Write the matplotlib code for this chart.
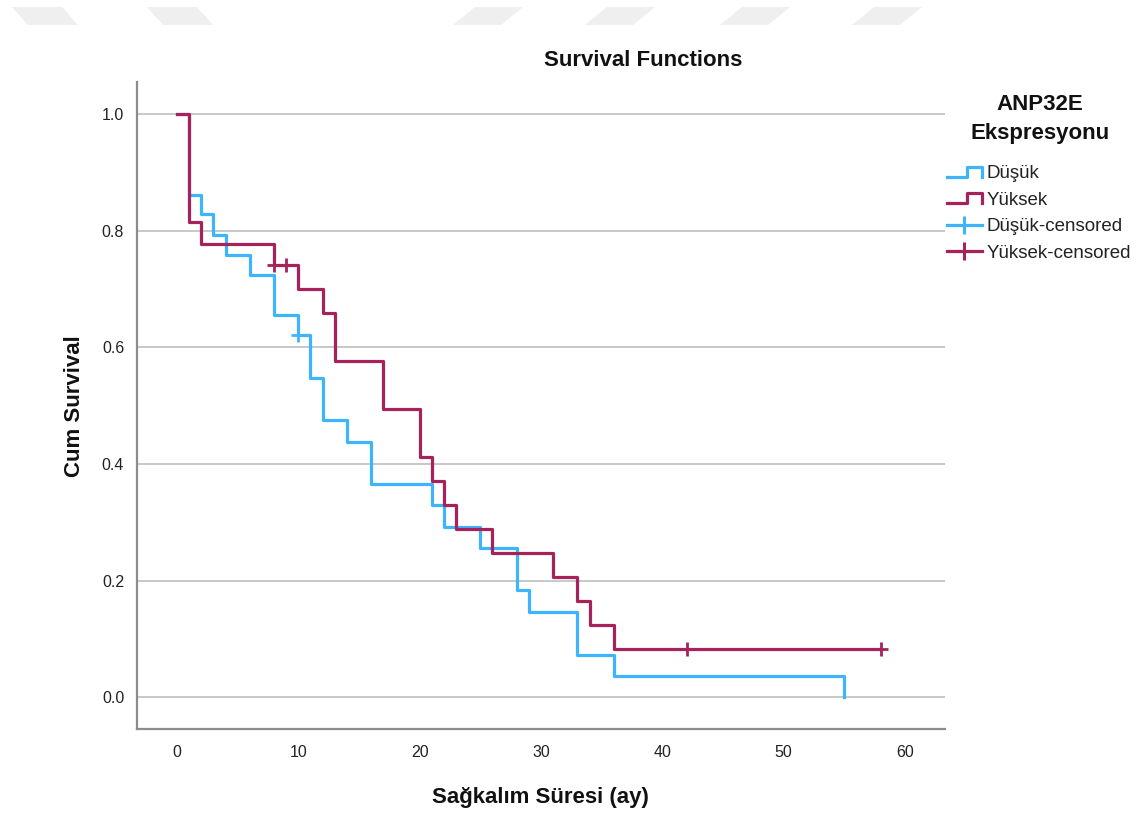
import numpy as np
import matplotlib
matplotlib.use('Agg')
import matplotlib.pyplot as plt
from matplotlib.lines import Line2D
from matplotlib.patches import Polygon
from matplotlib.legend_handler import HandlerBase

plt.rcParams['font.family'] = ['Liberation Sans', 'DejaVu Sans']

# Kaplan-Meier adimlari
dusuk_t = [0, 1, 2, 3, 4, 6, 8, 10, 11, 12, 14, 16, 21, 22, 25, 28, 29, 33, 36, 55]
dusuk_s = [1.0, 0.862, 0.828, 0.793, 0.759, 0.724, 0.655, 0.621, 0.548, 0.475,
           0.438, 0.365, 0.329, 0.292, 0.256, 0.183, 0.146, 0.073, 0.037, 0.0]
dusuk_cens_t = [10]
dusuk_cens_s = [0.621]

yuksek_t = [0, 1, 2, 8, 10, 12, 13, 17, 20, 21, 22, 23, 26, 31, 33, 34, 36, 58]
yuksek_s = [1.0, 0.815, 0.778, 0.741, 0.700, 0.659, 0.576, 0.494, 0.412, 0.370,
            0.329, 0.288, 0.247, 0.206, 0.165, 0.123, 0.082, 0.082]
yuksek_cens_t = [8, 9, 42, 58]
yuksek_cens_s = [0.741, 0.741, 0.082, 0.082]

x_ticks = [0, 10, 20, 30, 40, 50, 60]
y_ticks = [0.0, 0.2, 0.4, 0.6, 0.8, 1.0]
labels = ['Düşük', 'Yüksek', 'Düşük-censored', 'Yüksek-censored']
legend_title = ['ANP32E', 'Ekspresyonu']

BLUE = '#3db4fb'
RED = '#a5235a'


class StepHandler(HandlerBase):
    # legend icin basamak seklinde cizgi
    def create_artists(self, legend, orig_handle, xdescent, ydescent,
                       width, height, fontsize, trans):
        x0 = -xdescent
        y0 = -ydescent
        xs = [x0, x0 + width * 0.58, x0 + width * 0.58, x0 + width, x0 + width]
        ys = [y0 + height * 0.1, y0 + height * 0.1, y0 + height * 0.85,
              y0 + height * 0.85, y0 + height * 0.1]
        ln = Line2D(xs, ys, color=orig_handle.get_color(),
                    lw=orig_handle.get_linewidth(), transform=trans)
        return [ln]


class CensHandler(HandlerBase):
    def create_artists(self, legend, orig_handle, xdescent, ydescent,
                       width, height, fontsize, trans):
        x0 = -xdescent
        yc = -ydescent + height / 2
        ln = Line2D([x0, x0 + width], [yc, yc], color=orig_handle.get_color(),
                    lw=orig_handle.get_linewidth(), transform=trans)
        mk = Line2D([x0 + width / 2], [yc], marker='+', markersize=12.5,
                    mew=2.2, color=orig_handle.get_color(), ls='none',
                    transform=trans)
        return [ln, mk]


fig = plt.figure(figsize=(11.46, 8.16), dpi=100)
ax = fig.add_axes([0.1193, 0.1063, 0.8246 - 0.1193, 0.8995 - 0.1063])

# watermark parcalari (ust kenar)
wm_left = [12, 147]
wm_right = [453, 585, 720, 852]
for xl in wm_left:
    pts = [(xl, 7), (xl + 50, 7), (xl + 66, 25), (xl + 16, 25)]
    fig.add_artist(Polygon([(px / 1146, 1 - py / 816) for px, py in pts],
                           closed=True, transform=fig.transFigure,
                           facecolor='#efefef', edgecolor='none', zorder=0))
for xl in wm_right:
    pts = [(xl + 22, 7), (xl + 70, 7), (xl + 48, 25), (xl, 25)]
    fig.add_artist(Polygon([(px / 1146, 1 - py / 816) for px, py in pts],
                           closed=True, transform=fig.transFigure,
                           facecolor='#efefef', edgecolor='none', zorder=0))

ax.set_axisbelow(True)
ax.grid(axis='y', color='#c8c8c8', lw=1.4)

l1, = ax.step(dusuk_t, dusuk_s, where='post', color=BLUE, lw=2.3)
l2, = ax.step(yuksek_t, yuksek_s, where='post', color=RED, lw=2.3)
c1, = ax.plot(dusuk_cens_t, dusuk_cens_s, ls='none', marker='+',
              markersize=10, mew=2.0, color=BLUE)
c2, = ax.plot(yuksek_cens_t, yuksek_cens_s, ls='none', marker='+',
              markersize=10, mew=2.0, color=RED)

ax.set_xlim(-3.32, 63.3)
ax.set_ylim(-0.055, 1.055)
ax.set_xticks(x_ticks)
ax.set_yticks(y_ticks)
ax.set_yticklabels(['{:.1f}'.format(v) for v in y_ticks])
ax.tick_params(axis='both', length=0, labelsize=11.5, colors='#222222')
ax.tick_params(axis='x', pad=11)
ax.tick_params(axis='y', pad=9)

for s in ['top', 'right']:
    ax.spines[s].set_visible(False)
for s in ['left', 'bottom']:
    ax.spines[s].set_color('#8c8c8c')
    ax.spines[s].set_linewidth(1.6)

fig.text(643 / 1146, 1 - 61 / 816, 'Survival Functions', ha='center',
         va='center', fontsize=16, fontweight='bold', color='#111111')
ax.set_xlabel('Sağkalım Süresi (ay)', fontsize=16, fontweight='bold',
              labelpad=20, color='#111111')
ax.set_ylabel('Cum Survival', fontsize=16, fontweight='bold', labelpad=12,
              color='#111111')

# legend basligi
fig.text(1040 / 1146, 1 - 105 / 816, legend_title[0], ha='center', va='center',
         fontsize=16, fontweight='bold', color='#111111')
fig.text(1040 / 1146, 1 - 133 / 816, legend_title[1], ha='center', va='center',
         fontsize=16, fontweight='bold', color='#111111')

h1 = Line2D([], [], color=BLUE, lw=2.3)
h2 = Line2D([], [], color=RED, lw=2.3)
h3 = Line2D([], [], color=BLUE, lw=2.3)
h4 = Line2D([], [], color=RED, lw=2.3)
leg = fig.legend([h1, h2, h3, h4], labels, loc='upper left',
                 bbox_to_anchor=(947 / 1146, 1 - 165 / 816),
                 frameon=False, fontsize=13.5,
                 handlelength=1.85, handletextpad=0.27, labelspacing=0.5,
                 borderaxespad=0, borderpad=0,
                 handler_map={h1: StepHandler(), h2: StepHandler(),
                              h3: CensHandler(), h4: CensHandler()})
for t in leg.get_texts():
    t.set_color('#222222')

fig.savefig('out.png', dpi=100, facecolor='white')
